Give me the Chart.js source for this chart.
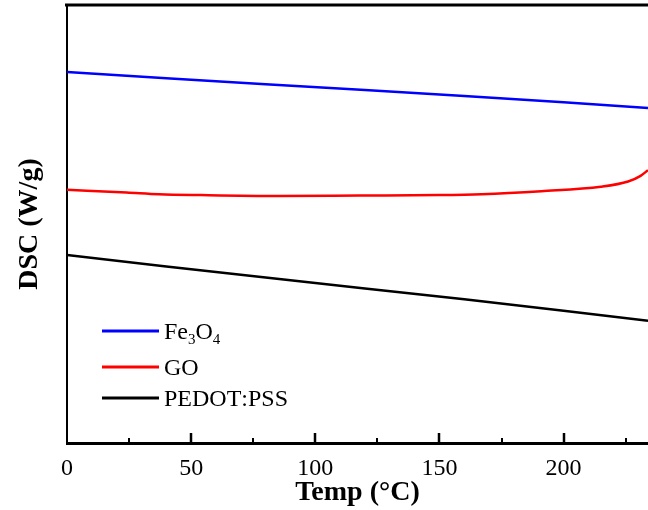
<!DOCTYPE html>
<html>
<head>
<meta charset="utf-8">
<script src="https://cdn.jsdelivr.net/npm/chart.js@4/dist/chart.umd.min.js"></script>
<style>
    html, body { margin: 0; padding: 0; background: #ffffff; }
    #myChart { display: block; }
</style>
</head>
<body>
<canvas id="myChart" width="648" height="510"></canvas>
<script>
    // values (y is arbitrary DSC units, no scale shown)
    const seriesNames = ["Fe3O4", "GO", "PEDOT:PSS"];
    const seriesColors = ["#0000ff", "#ff0000", "#000000"];

    const feTemp = [0, 40, 80, 120, 160, 200, 234];
    const feDsc = [84.7, 83.3, 81.9, 80.6, 79.2, 77.8, 76.5];

    const goTemp = [0, 24, 37, 54, 85, 118, 150, 167, 191, 215, 226, 231, 234];
    const goDsc = [57.8, 57.2, 56.8, 56.6, 56.4, 56.5, 56.6, 56.8, 57.5, 58.5, 59.7, 61.0, 62.3];

    const pedotTemp = [0, 40, 80, 120, 160, 200, 234];
    const pedotDsc = [42.9, 40.3, 37.8, 35.3, 32.8, 30.2, 27.9];

    const xMajorTicks = [50, 100, 150, 200];
    const xMinorTicks = [25, 75, 125, 175, 225];

    function toPoints(xs, ys) {
        return xs.map(function (x, i) { return { x: x, y: ys[i] }; });
    }

    // text with digits drawn as subscripts (Fe3O4)
    function drawChem(ctx, text, x, y, size) {
        let cx = x;
        for (const ch of text) {
            if (/[0-9]/.test(ch)) {
                ctx.font = Math.round(size * 0.62) + "px 'Liberation Serif'";
                ctx.fillText(ch, cx, y + size * 0.22);
            } else {
                ctx.font = size + "px 'Liberation Serif'";
                ctx.fillText(ch, cx, y);
            }
            cx += ctx.measureText(ch).width;
        }
    }

    function drawTicks(ctx, scale, values, bottom, len, w) {
        values.forEach(function (v) {
            const px = Math.round(scale.getPixelForValue(v));
            ctx.fillRect(px - w / 2, bottom - len, w, len);
        });
    }

    const framePlugin = {
        id: "frame",
        afterDraw(chart) {
            const ctx = chart.ctx;
            const area = chart.chartArea;
            const xs = chart.scales.x;
            ctx.save();
            ctx.fillStyle = "#000000";
            // top border
            ctx.fillRect(area.left - 2, area.top - 1.5, area.right - area.left + 2, 3);
            // inward ticks on bottom axis
            drawTicks(ctx, xs, xMinorTicks, area.bottom, 5, 2);
            drawTicks(ctx, xs, xMajorTicks, area.bottom, 10, 2.5);
            // legend inside the plot
            const rows = [331, 367, 398];
            ctx.textBaseline = "alphabetic";
            chart.data.datasets.forEach(function (ds, i) {
                const y = rows[i];
                ctx.strokeStyle = ds.borderColor;
                ctx.lineWidth = 3;
                ctx.beginPath();
                ctx.moveTo(102, y);
                ctx.lineTo(159, y);
                ctx.stroke();
                ctx.fillStyle = "#000000";
                drawChem(ctx, ds.label, 164, y + 8, 24);
            });
            ctx.restore();
        }
    };

    const ctx = document.getElementById("myChart");
    new Chart(ctx, {
        type: "line",
        data: {
            datasets: [
                { label: seriesNames[0], data: toPoints(feTemp, feDsc), borderColor: seriesColors[0] },
                { label: seriesNames[1], data: toPoints(goTemp, goDsc), borderColor: seriesColors[1], cubicInterpolationMode: "monotone" },
                { label: seriesNames[2], data: toPoints(pedotTemp, pedotDsc), borderColor: seriesColors[2] },
            ],
        },
        options: {
            responsive: false,
            animation: false,
            devicePixelRatio: 1,
            elements: {
                point: { radius: 0 },
                line: { borderWidth: 2.5, fill: false },
            },
            layout: {
                padding: { top: 5, right: 0, bottom: 0, left: 0 },
            },
            plugins: {
                legend: { display: false },
                tooltip: { enabled: false },
            },
            scales: {
                x: {
                    type: "linear",
                    min: 0,
                    max: 234,
                    afterFit: function (scale) { scale.height = 67; },
                    grid: { display: false },
                    border: { display: true, color: "#000", width: 3 },
                    ticks: {
                        stepSize: 50,
                        includeBounds: false,
                        color: "#000",
                        padding: 3,
                        maxRotation: 0,
                        font: { family: "'Liberation Serif'", size: 24 },
                    },
                    title: {
                        display: true,
                        text: "Temp (°C)",
                        color: "#000",
                        padding: { top: 0, bottom: 0 },
                        font: { family: "'Liberation Serif'", size: 28, weight: "bold" },
                    },
                },
                y: {
                    min: 0,
                    max: 100,
                    afterFit: function (scale) { scale.width = 67; },
                    grid: { display: false },
                    border: { display: true, color: "#000", width: 2 },
                    ticks: { display: false },
                    title: {
                        display: true,
                        text: "DSC (W/g)",
                        color: "#000",
                        padding: { top: 13, bottom: 0 },
                        font: { family: "'Liberation Serif'", size: 28, weight: "bold" },
                    },
                },
            },
        },
        plugins: [framePlugin],
    });
</script>
</body>
</html>
